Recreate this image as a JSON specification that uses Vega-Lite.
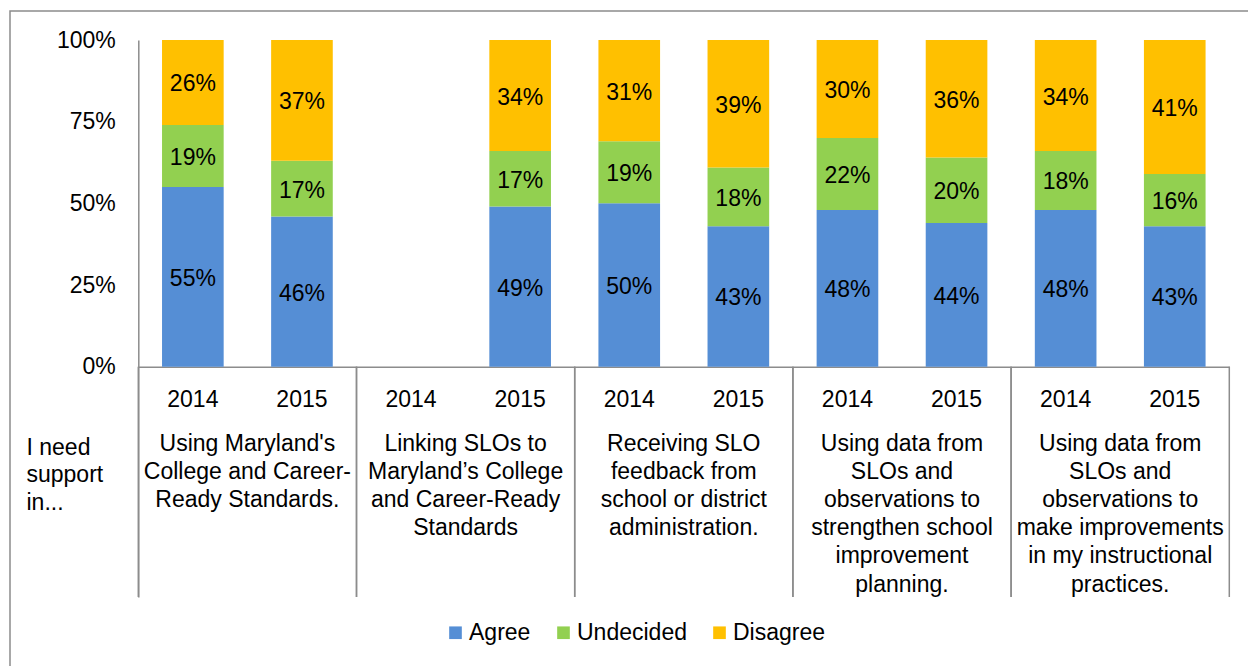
{
  "$schema": "https://vega.github.io/schema/vega-lite/v6.json",
  "width": 1240,
  "height": 660,
  "autosize": {"type": "none"},
  "padding": {"left": 10, "top": 11, "right": 0, "bottom": 0},
  "background": "white",
  "config": {
    "font": "Liberation Sans",
    "view": {"stroke": "#8c8c8c", "strokeWidth": 1.5},
    "axis": {"grid": false}
  },
  "datasets": {
    "bars": [
      {"group": "g1", "year": "2014", "response": "Agree", "rank": 1, "value": 0.55},
      {"group": "g1", "year": "2014", "response": "Undecided", "rank": 2, "value": 0.19},
      {"group": "g1", "year": "2014", "response": "Disagree", "rank": 3, "value": 0.26},
      {"group": "g1", "year": "2015", "response": "Agree", "rank": 1, "value": 0.46},
      {"group": "g1", "year": "2015", "response": "Undecided", "rank": 2, "value": 0.17},
      {"group": "g1", "year": "2015", "response": "Disagree", "rank": 3, "value": 0.37},
      {"group": "g2", "year": "2015", "response": "Agree", "rank": 1, "value": 0.49},
      {"group": "g2", "year": "2015", "response": "Undecided", "rank": 2, "value": 0.17},
      {"group": "g2", "year": "2015", "response": "Disagree", "rank": 3, "value": 0.34},
      {"group": "g3", "year": "2014", "response": "Agree", "rank": 1, "value": 0.50},
      {"group": "g3", "year": "2014", "response": "Undecided", "rank": 2, "value": 0.19},
      {"group": "g3", "year": "2014", "response": "Disagree", "rank": 3, "value": 0.31},
      {"group": "g3", "year": "2015", "response": "Agree", "rank": 1, "value": 0.43},
      {"group": "g3", "year": "2015", "response": "Undecided", "rank": 2, "value": 0.18},
      {"group": "g3", "year": "2015", "response": "Disagree", "rank": 3, "value": 0.39},
      {"group": "g4", "year": "2014", "response": "Agree", "rank": 1, "value": 0.48},
      {"group": "g4", "year": "2014", "response": "Undecided", "rank": 2, "value": 0.22},
      {"group": "g4", "year": "2014", "response": "Disagree", "rank": 3, "value": 0.30},
      {"group": "g4", "year": "2015", "response": "Agree", "rank": 1, "value": 0.44},
      {"group": "g4", "year": "2015", "response": "Undecided", "rank": 2, "value": 0.20},
      {"group": "g4", "year": "2015", "response": "Disagree", "rank": 3, "value": 0.36},
      {"group": "g5", "year": "2014", "response": "Agree", "rank": 1, "value": 0.48},
      {"group": "g5", "year": "2014", "response": "Undecided", "rank": 2, "value": 0.18},
      {"group": "g5", "year": "2014", "response": "Disagree", "rank": 3, "value": 0.34},
      {"group": "g5", "year": "2015", "response": "Agree", "rank": 1, "value": 0.43},
      {"group": "g5", "year": "2015", "response": "Undecided", "rank": 2, "value": 0.16},
      {"group": "g5", "year": "2015", "response": "Disagree", "rank": 3, "value": 0.41}
    ],
    "slots": [
      {"group": "g1", "year": "2014"}, {"group": "g1", "year": "2015"},
      {"group": "g2", "year": "2014"}, {"group": "g2", "year": "2015"},
      {"group": "g3", "year": "2014"}, {"group": "g3", "year": "2015"},
      {"group": "g4", "year": "2014"}, {"group": "g4", "year": "2015"},
      {"group": "g5", "year": "2014"}, {"group": "g5", "year": "2015"}
    ],
    "groups": [
      {"group": "g1", "label": "Using Maryland's\nCollege and Career-\nReady Standards."},
      {"group": "g2", "label": "Linking SLOs to\nMaryland’s College\nand Career-Ready\nStandards"},
      {"group": "g3", "label": "Receiving SLO\nfeedback from\nschool or district\nadministration."},
      {"group": "g4", "label": "Using data from\nSLOs and\nobservations to\nstrengthen school\nimprovement\nplanning."},
      {"group": "g5", "label": "Using data from\nSLOs and\nobservations to\nmake improvements\nin my instructional\npractices."}
    ]
  },
  "encoding": {
    "x": {
      "field": "group",
      "type": "nominal",
      "scale": {"domain": ["g1", "g2", "g3", "g4", "g5"], "range": [128.3, 1219.3], "paddingInner": 0, "paddingOuter": 0},
      "axis": {"orient": "bottom", "offset": -304.3, "labels": false, "ticks": false, "domainColor": "#8c8c8c", "domainWidth": 1.5, "title": null}
    }
  },
  "layer": [
    {
      "data": {"name": "bars"},
      "mark": {"type": "bar"},
      "encoding": {
        "xOffset": {"field": "year", "type": "nominal", "scale": {"domain": ["2014", "2015"], "paddingInner": 0.435, "paddingOuter": 0.2175}},
        "y": {
          "field": "value",
          "type": "quantitative",
          "stack": "zero",
          "scale": {"domain": [-0.705, 1], "range": [586, 29], "nice": false, "zero": false},
          "axis": {
            "values": [0, 0.25, 0.5, 0.75, 1],
            "format": ".0%",
            "offset": -128.3,
            "ticks": false,
            "labelPadding": 23,
            "labelFontSize": 23,
            "labelColor": "black",
            "domainColor": "#8c8c8c",
            "domainWidth": 1.5,
            "title": ["I need", "support", "in..."],
            "titleAngle": 0,
            "titleAlign": "left",
            "titleBaseline": "alphabetic",
            "titleX": -112.3,
            "titleY": 443,
            "titleFontSize": 23,
            "titleFontWeight": "normal",
            "titleColor": "black",
            "titleLineHeight": 27.8
          }
        },
        "order": {"field": "rank", "type": "quantitative", "sort": "ascending"},
        "color": {
          "field": "response",
          "type": "nominal",
          "scale": {"domain": ["Agree", "Undecided", "Disagree"], "range": ["#558ED5", "#92D050", "#FFC000"]},
          "legend": {
            "orient": "none",
            "legendX": 434,
            "legendY": 610,
            "direction": "horizontal",
            "title": null,
            "symbolType": "square",
            "symbolSize": 160,
            "symbolStrokeWidth": 0,
            "labelFontSize": 23,
            "labelColor": "black",
            "labelOffset": 2,
            "columnPadding": 21,
            "padding": 0
          }
        }
      }
    },
    {
      "data": {"name": "bars"},
      "mark": {"type": "text", "fontSize": 23, "color": "black", "baseline": "middle", "dy": 2},
      "encoding": {
        "xOffset": {"field": "year", "type": "nominal"},
        "y": {"field": "value", "type": "quantitative", "stack": "zero", "bandPosition": 0.5},
        "order": {"field": "rank", "type": "quantitative", "sort": "ascending"},
        "detail": {"field": "response", "type": "nominal"},
        "text": {"field": "value", "type": "quantitative", "format": ".0%"}
      }
    },
    {
      "data": {"name": "slots"},
      "mark": {"type": "text", "fontSize": 23, "color": "black", "baseline": "alphabetic"},
      "encoding": {
        "xOffset": {"field": "year", "type": "nominal"},
        "y": {"datum": -0.1225, "type": "quantitative"},
        "text": {"field": "year", "type": "nominal"}
      }
    },
    {
      "data": {"name": "groups"},
      "mark": {"type": "text", "fontSize": 23, "color": "black", "baseline": "alphabetic", "lineBreak": "\n", "lineHeight": 28.2},
      "encoding": {
        "y": {"datum": -0.2566, "type": "quantitative"},
        "text": {"field": "label", "type": "nominal"}
      }
    },
    {
      "data": {"name": "groups"},
      "mark": {"type": "rule", "color": "#8c8c8c", "strokeWidth": 1.5},
      "encoding": {
        "x": {"field": "group", "type": "nominal", "bandPosition": 0},
        "y": {"datum": 0, "type": "quantitative"},
        "y2": {"datum": -0.705}
      }
    },
    {
      "data": {"name": "groups"},
      "mark": {"type": "rule", "color": "#8c8c8c", "strokeWidth": 1.5},
      "encoding": {
        "x": {"field": "group", "type": "nominal", "bandPosition": 1},
        "y": {"datum": 0, "type": "quantitative"},
        "y2": {"datum": -0.705}
      }
    }
  ]
}
